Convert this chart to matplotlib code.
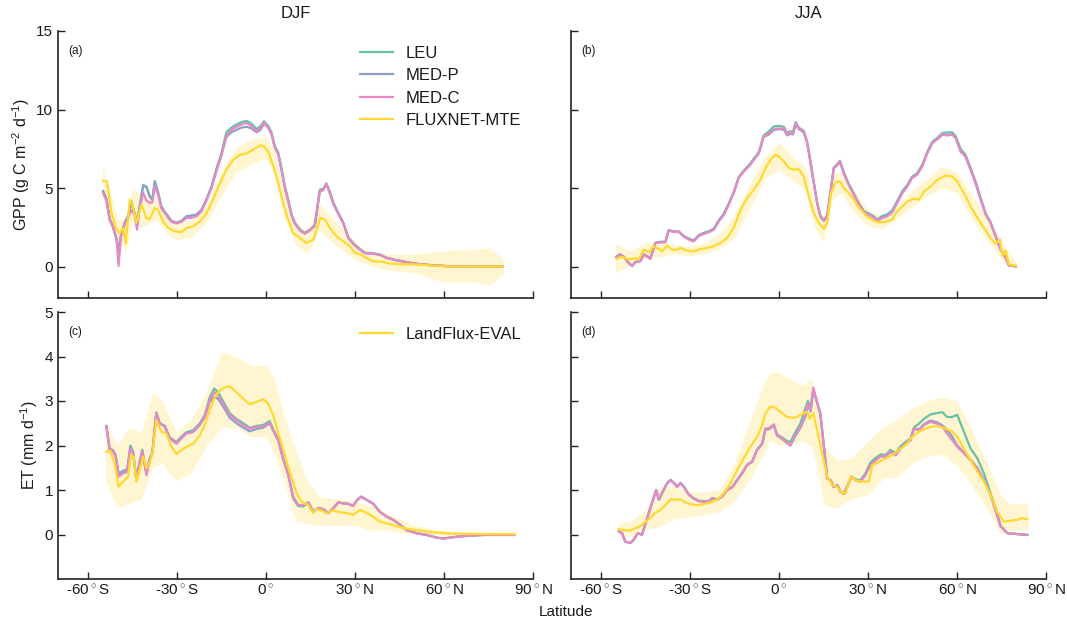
import matplotlib
matplotlib.use("Agg")
import matplotlib.pyplot as plt
import numpy as np

plt.rcParams['font.family'] = ['Liberation Sans', 'DejaVu Sans']
plt.rcParams['mathtext.fontset'] = 'custom'
plt.rcParams['mathtext.rm'] = 'Liberation Sans'
plt.rcParams['mathtext.it'] = 'Liberation Sans:italic'

# ---------------- Panel (a): GPP DJF ----------------
lat_a = [-54.8,-53.7,-52.6,-51.5,-50.3,-49.6,-48.7,-47.5,-46.4,-45.3,-44.2,-43.4,-42.5,-41.3,-40.2,-39.1,-38.2,-37.4,-36.3,-35.2,
         -34.0,-32.9,-31.8,-30.1,-28.4,-26.7,-25.0,-23.4,-21.7,-20.0,-18.3,-16.6,-14.9,-13.3,-11.6,-9.9,-8.2,-6.5,-4.8,-3.1,
         -1.8,-0.6,0.8,1.9,3.0,4.2,5.3,6.4,7.5,8.7,9.8,11.5,13.1,14.8,16.5,18.2,19.3,20.4,21.6,22.7,
         24.4,26.1,27.8,29.4,31.1,33.4,36.2,38.4,40.7,44.0,47.4,50.8,56.4,62.0,73.3,79.7]
medc_a = [4.68,4.2,3.0,2.5,1.8,0.05,2.0,2.7,3.1,3.6,3.3,2.35,3.7,4.7,4.2,4.05,4.1,5.1,4.6,3.7,
          3.4,3.1,2.85,2.75,2.85,3.1,3.1,3.2,3.5,4.2,5.0,6.1,7.1,8.3,8.7,8.9,9.05,9.15,8.95,8.6,
          8.8,9.15,8.85,8.45,7.6,7.15,6.15,5.05,4.2,3.25,2.75,2.3,2.1,2.3,2.6,4.8,4.85,5.25,4.65,4.0,
          3.35,2.75,1.8,1.45,1.15,0.85,0.82,0.75,0.55,0.4,0.28,0.17,0.08,0.02,0.0,0.0]
leu_a = [4.8,4.3,3.05,2.55,1.75,1.0,2.1,2.8,3.2,4.15,3.4,2.9,3.8,5.2,5.1,4.5,4.3,5.45,4.75,3.85,
         3.45,3.2,2.9,2.8,2.9,3.2,3.25,3.3,3.6,4.3,5.1,6.25,7.25,8.55,8.85,9.05,9.2,9.28,9.1,8.75,
         8.95,9.25,8.95,8.55,7.7,7.25,6.25,5.15,4.3,3.3,2.8,2.35,2.15,2.35,2.65,4.9,4.95,5.3,4.75,4.1,
         3.4,2.8,1.85,1.5,1.2,0.87,0.84,0.76,0.56,0.41,0.29,0.18,0.08,0.02,0.0,0.0]
medp_a = [4.8,4.3,3.0,2.55,1.75,1.08,2.1,2.8,3.2,4.1,3.4,2.8,3.8,5.15,5.05,4.45,4.25,5.4,4.7,3.8,
          3.45,3.2,2.9,2.8,2.9,3.2,3.25,3.3,3.6,4.25,5.05,6.15,7.15,8.25,8.55,8.7,8.85,8.9,8.8,8.55,
          8.7,9.1,8.85,8.45,7.6,7.15,6.15,5.05,4.2,3.25,2.75,2.3,2.1,2.3,2.6,4.85,4.9,5.25,4.7,4.05,
          3.4,2.78,1.82,1.48,1.18,0.86,0.83,0.75,0.55,0.4,0.28,0.17,0.08,0.02,0.0,0.0]
lat_mte_a = [-54.8,-53.5,-52.0,-50.3,-49.2,-48.1,-47.2,-45.8,-44.7,-43.6,-41.9,-40.2,-39.1,-37.4,-36.3,-34.6,-32.9,-30.7,-28.4,-26.7,
             -24.5,-22.2,-20.0,-17.8,-15.5,-13.3,-11.0,-8.8,-6.5,-4.3,-2.0,-0.9,0.8,2.5,4.2,5.8,7.5,9.2,11.5,13.7,
             16.0,17.1,18.4,19.9,21.6,23.8,26.1,28.3,30.0,32.2,33.9,36.2,39.6,41.8,46.3,50.8,56.4,62.0,79.7]
mte_a = [5.47,5.42,3.4,2.35,2.14,2.46,1.5,4.26,3.8,2.78,3.94,3.1,3.0,3.73,3.6,2.88,2.46,2.25,2.2,2.46,
         2.56,2.88,3.4,4.26,5.3,6.17,6.8,7.1,7.2,7.44,7.7,7.7,7.33,6.4,5.3,4.05,3.0,2.14,1.82,1.5,
         1.72,2.35,3.1,3.0,2.46,1.93,1.6,1.3,0.87,0.76,0.55,0.34,0.3,0.19,0.15,0.13,0.06,0.0,0.0]
lat_band_a = [-55,-52,-50,-47,-45,-42,-37,-33,-30,-25,-20,-15,-10,-5,0,3,6,10,14,18,22,28,33,40,50,60,70,75,80]
mte_hi_a = [6.3,4.5,3.0,3.0,5.0,4.5,4.3,3.0,2.8,3.0,3.9,6.0,7.6,8.1,8.3,7.3,5.0,2.8,2.2,4.0,3.2,2.0,1.1,0.8,0.8,1.0,1.1,1.2,0.5]
mte_lo_a = [4.5,2.5,1.6,1.0,3.0,2.5,3.0,2.0,1.7,1.9,2.8,4.5,6.0,6.5,6.9,5.8,3.2,1.4,0.8,2.3,1.6,0.7,0.2,-0.2,-0.4,-1.0,-1.0,-1.2,-0.5]

# ---------------- Panel (b): GPP JJA ----------------
lat_b = [-54.7,-53.6,-52.2,-50.6,-49.4,-48.3,-46.6,-45.5,-44.2,-43.3,-41.6,-39.9,-38.2,-37.1,-35.4,-33.7,-32.0,-30.3,-28.7,-27.0,
         -25.3,-23.6,-21.9,-20.2,-18.5,-16.9,-15.2,-13.5,-11.8,-10.1,-8.4,-6.7,-5.1,-3.4,-1.7,0.0,1.7,2.8,3.9,4.8,
         5.7,6.7,8.4,9.6,10.7,11.8,12.9,14.0,15.2,16.3,17.4,18.5,19.7,20.6,21.9,23.6,25.3,27.0,28.7,30.3,
         32.0,33.1,34.8,36.5,38.2,39.9,41.6,43.3,44.9,46.6,48.3,50.0,51.7,53.4,55.1,56.7,58.4,59.6,61.2,62.9,
         64.6,66.3,68.0,69.7,71.3,73.0,74.7,76.4,77.5,79.8]
medc_b = [0.61,0.76,0.61,0.23,0.02,0.28,0.34,0.76,0.61,0.49,1.5,1.55,1.55,2.3,2.2,2.2,1.9,1.72,1.6,1.93,
          2.08,2.18,2.35,2.88,3.3,3.94,4.68,5.64,6.06,6.38,6.8,7.22,8.28,8.45,8.75,8.8,8.77,8.4,8.54,8.5,
          9.13,8.8,8.6,7.86,6.6,5.3,4.05,3.2,2.92,3.2,4.68,6.27,6.48,6.7,5.95,5.2,4.58,3.94,3.45,3.3,
          3.1,2.88,3.1,3.2,3.45,4.05,4.68,5.1,5.64,5.85,6.38,7.22,7.86,8.1,8.4,8.35,8.4,8.18,7.33,7.0,
          6.17,5.3,4.26,3.3,2.78,1.93,1.08,0.55,0.06,0.02]
leu_b = [0.63,0.78,0.63,0.25,0.05,0.3,0.36,0.8,0.65,0.52,1.52,1.58,1.58,2.33,2.24,2.24,1.95,1.78,1.66,2.0,
         2.15,2.25,2.42,2.95,3.38,4.0,4.74,5.7,6.12,6.45,6.88,7.3,8.35,8.6,8.92,8.96,8.9,8.5,8.62,8.6,
         9.2,8.85,8.65,7.9,6.65,5.35,4.1,3.25,2.98,3.25,4.72,6.3,6.52,6.74,6.0,5.25,4.65,4.02,3.52,3.38,
         3.2,2.98,3.22,3.32,3.58,4.18,4.8,5.2,5.72,5.95,6.48,7.3,7.95,8.2,8.5,8.54,8.55,8.3,7.5,7.12,
         6.28,5.4,4.35,3.38,2.84,1.98,1.12,0.58,0.08,0.02]
medp_b = [0.62,0.77,0.62,0.24,0.04,0.29,0.35,0.78,0.63,0.5,1.5,1.56,1.56,2.3,2.22,2.22,1.92,1.75,1.63,1.96,
          2.12,2.22,2.38,2.92,3.35,3.97,4.7,5.66,6.08,6.4,6.82,7.24,8.25,8.4,8.7,8.75,8.72,8.35,8.45,8.42,
          9.05,8.75,8.55,7.82,6.58,5.28,4.03,3.18,2.9,3.18,4.66,6.25,6.46,6.68,5.93,5.18,4.56,3.95,3.47,3.33,
          3.14,2.92,3.15,3.25,3.5,4.1,4.72,5.14,5.68,5.88,6.4,7.24,7.88,8.12,8.42,8.38,8.42,8.2,7.36,7.02,
          6.2,5.32,4.28,3.32,2.8,1.95,1.1,0.56,0.07,0.02]
lat_mte_b = [-54.7,-52.8,-51.1,-49.4,-48.3,-47.2,-45.5,-43.8,-42.1,-40.4,-39.3,-37.6,-35.9,-34.3,-33.1,-31.5,-28.7,-26.4,-24.2,-21.9,
             -19.7,-17.4,-15.2,-12.9,-10.7,-8.4,-6.2,-4.5,-2.8,-1.1,0.0,1.7,3.4,5.1,6.7,8.4,10.1,11.8,13.5,15.2,
             16.3,17.6,19.1,20.6,21.9,23.6,25.3,27.0,28.7,30.3,32.0,33.7,36.0,38.2,39.9,41.6,43.3,45.5,47.2,48.9,
             51.1,53.4,56.2,58.4,60.1,62.4,64.6,66.9,69.1,71.3,73.0,74.5,75.3,76.4,77.5,79.8]
mte_b = [0.49,0.61,0.49,0.49,0.55,0.44,1.08,0.91,1.29,1.12,0.97,1.33,1.08,1.08,1.19,1.04,0.97,1.12,1.19,1.29,
         1.5,1.82,2.46,3.62,4.36,4.9,5.53,6.27,6.8,7.12,7.01,6.7,6.27,6.17,6.2,5.74,4.47,3.4,2.78,2.4,
         2.78,4.68,5.36,5.42,5.0,4.68,4.26,3.73,3.4,3.1,2.92,2.82,2.84,3.0,3.52,3.83,4.15,4.32,4.26,4.79,
         5.1,5.53,5.8,5.74,5.42,4.68,3.83,3.1,2.46,1.82,1.46,1.72,0.66,1.02,0.13,0.06]
lat_band_b = [-55,-50,-45,-40,-35,-30,-25,-20,-15,-10,-5,0,5,9,12,15,18,21,25,30,35,40,45,50,55,60,65,70,73,76,80]
mte_hi_b = [1.5,1.0,1.5,1.6,1.4,1.3,1.5,2.1,3.3,5.2,6.9,7.9,6.9,6.4,4.0,3.0,5.9,6.0,4.9,3.6,3.2,3.9,4.9,5.6,6.4,6.0,4.6,3.1,2.3,1.3,0.3]
mte_lo_b = [-0.4,0.1,0.6,0.6,0.8,0.7,0.8,1.1,1.8,3.6,5.5,6.2,5.4,4.9,2.5,1.6,4.2,4.7,3.5,2.6,2.4,3.1,3.8,4.5,5.0,4.7,3.0,1.7,1.0,0.3,-0.2]

# ---------------- Panel (c): ET DJF ----------------
lat_c = [-53.7,-52.6,-51.5,-50.6,-49.6,-48.1,-46.7,-45.6,-44.7,-43.6,-42.5,-41.6,-40.2,-39.1,-38.2,-36.9,-35.7,-34.0,-32.4,-30.1,
         -28.4,-26.7,-24.5,-22.2,-20.6,-18.9,-17.4,-16.1,-14.4,-12.1,-9.9,-7.6,-5.4,-3.1,-0.9,1.3,2.5,4.2,5.8,7.5,
         9.2,10.9,12.6,14.3,16.0,17.6,19.3,21.0,22.7,24.4,26.1,27.8,29.4,30.8,32.2,33.9,36.2,38.4,40.7,42.9,
         45.2,47.4,50.8,54.2,57.5,59.8,63.1,67.6,73.3,83.7]
medc_c = [2.42,1.9,1.88,1.75,1.3,1.37,1.41,1.93,1.82,1.22,1.6,1.86,1.34,1.67,1.82,2.72,2.49,2.42,2.16,2.04,
          2.16,2.27,2.3,2.46,2.64,3.01,3.2,3.13,2.94,2.68,2.57,2.46,2.38,2.42,2.43,2.51,2.34,2.12,1.71,1.37,
          0.85,0.66,0.66,0.72,0.51,0.59,0.57,0.48,0.59,0.72,0.7,0.69,0.64,0.78,0.85,0.78,0.69,0.51,0.4,0.33,
          0.22,0.1,0.03,-0.01,-0.07,-0.09,-0.06,-0.03,-0.01,-0.01]
leu_c = [2.44,1.92,1.9,1.77,1.35,1.42,1.45,2.0,1.86,1.24,1.63,1.9,1.37,1.7,1.85,2.74,2.5,2.44,2.18,2.08,
         2.2,2.3,2.34,2.5,2.68,3.08,3.28,3.2,3.0,2.72,2.6,2.5,2.4,2.44,2.46,2.55,2.36,2.14,1.72,1.36,
         0.82,0.64,0.63,0.72,0.51,0.59,0.57,0.48,0.59,0.72,0.7,0.69,0.64,0.78,0.85,0.78,0.69,0.51,0.4,0.33,
         0.22,0.1,0.03,-0.01,-0.07,-0.09,-0.06,-0.03,-0.01,-0.01]
medp_c = [2.43,1.91,1.89,1.78,1.37,1.43,1.46,1.96,1.84,1.26,1.62,1.88,1.36,1.69,1.84,2.73,2.5,2.43,2.17,2.06,
          2.18,2.28,2.32,2.47,2.64,2.98,3.09,3.05,2.88,2.62,2.5,2.4,2.32,2.37,2.4,2.5,2.33,2.11,1.7,1.36,
          0.84,0.66,0.66,0.72,0.51,0.59,0.57,0.48,0.59,0.72,0.7,0.69,0.64,0.78,0.85,0.78,0.69,0.51,0.4,0.33,
          0.22,0.1,0.03,-0.01,-0.07,-0.09,-0.06,-0.03,-0.01,-0.01]
lat_lf_c = [-53.7,-52.4,-50.9,-49.6,-48.1,-46.4,-45.5,-44.5,-43.6,-42.5,-41.3,-40.2,-39.1,-38.0,-36.9,-35.2,-33.5,-31.8,-30.1,-28.4,
            -26.7,-24.5,-22.2,-20.6,-18.9,-17.2,-15.5,-13.8,-12.1,-9.9,-7.6,-5.4,-3.1,-0.9,0.8,2.5,4.2,5.8,7.5,9.2,
            10.3,12.0,14.3,16.0,17.1,18.8,20.4,22.7,24.9,27.2,29.4,31.7,33.9,36.2,38.4,40.7,44.0,47.4,50.8,56.4,
            62.0,73.3,83.7]
lf_c = [1.86,1.88,1.6,1.07,1.19,1.3,1.78,1.75,1.19,1.45,1.75,1.49,1.6,1.9,2.57,2.31,2.27,1.97,1.81,1.9,
        1.97,2.04,2.23,2.46,2.79,3.09,3.24,3.31,3.33,3.2,3.05,2.93,2.98,3.04,2.94,2.68,2.27,1.93,1.52,1.19,
        0.93,0.74,0.66,0.48,0.57,0.54,0.48,0.54,0.5,0.48,0.44,0.55,0.49,0.4,0.29,0.25,0.19,0.13,0.1,0.05,
        0.02,0.01,0.01]
lat_band_c = [-54,-50,-46,-42,-38,-35,-30,-25,-20,-15,-10,-5,0,3,6,10,14,18,25,30,35,40,50,60,84]
lf_hi_c = [2.5,2.0,2.4,2.3,3.2,3.0,2.3,2.6,3.2,4.1,4.0,3.8,3.8,3.5,2.7,1.9,1.2,0.85,0.8,0.75,0.65,0.5,0.2,0.08,0.03]
lf_lo_c = [1.2,0.6,0.7,0.8,1.5,1.6,1.2,1.4,2.0,2.4,2.4,2.2,2.2,1.8,1.2,0.3,0.25,0.2,0.2,0.2,0.1,0.1,0.0,-0.02,-0.01]

# ---------------- Panel (d): ET JJA ----------------
lat_d = [-53.9,-52.8,-51.7,-50.0,-48.9,-47.5,-46.1,-44.9,-43.8,-42.4,-41.3,-40.4,-38.8,-37.6,-36.5,-35.4,-34.3,-33.1,-32.0,-30.3,
         -28.7,-27.0,-25.3,-23.6,-22.5,-20.8,-19.1,-17.4,-15.7,-14.0,-12.4,-10.7,-9.0,-7.3,-5.6,-4.5,-3.4,-1.7,-0.6,1.1,
         2.8,3.9,5.6,7.3,9.0,9.8,10.7,11.6,12.9,14.0,15.2,16.3,17.4,18.5,19.7,20.8,21.9,23.0,24.4,25.8,
         27.5,29.2,30.9,32.6,34.3,36.0,37.6,39.3,41.0,42.7,44.4,45.5,47.2,48.9,51.1,53.4,55.1,56.7,58.4,60.1,
         62.4,64.6,66.9,69.1,71.3,73.0,74.7,77.0,80.3,83.7]
medc_d = [0.07,0.03,-0.16,-0.19,-0.12,0.03,-0.01,0.25,0.48,0.78,1.0,0.78,1.0,1.15,1.22,1.16,1.07,1.15,1.07,0.89,
          0.81,0.75,0.74,0.74,0.81,0.78,0.85,1.0,1.06,1.22,1.37,1.56,1.63,1.9,2.04,2.38,2.38,2.47,2.23,2.16,
          2.06,2.0,2.23,2.42,2.68,2.94,2.79,3.3,2.98,2.72,1.97,1.26,1.22,1.07,1.11,0.96,0.91,1.07,1.3,1.22,
          1.19,1.34,1.56,1.67,1.76,1.75,1.86,1.78,1.93,2.04,2.12,2.38,2.34,2.46,2.53,2.49,2.42,2.27,2.12,1.97,
          1.82,1.67,1.49,1.22,0.89,0.55,0.18,0.03,0.01,-0.01]
leu_d = [0.07,0.03,-0.16,-0.19,-0.12,0.03,-0.01,0.25,0.48,0.78,1.0,0.78,1.0,1.16,1.23,1.17,1.08,1.16,1.08,0.9,
         0.82,0.76,0.75,0.75,0.82,0.79,0.86,1.01,1.07,1.23,1.38,1.57,1.64,1.91,2.05,2.38,2.38,2.47,2.25,2.18,
         2.1,2.08,2.3,2.5,2.85,3.0,2.82,3.25,2.98,2.72,1.97,1.26,1.22,1.07,1.11,0.96,0.91,1.07,1.3,1.24,
         1.22,1.38,1.62,1.72,1.8,1.79,1.9,1.83,1.98,2.08,2.16,2.4,2.49,2.6,2.7,2.73,2.75,2.64,2.64,2.69,
         2.3,1.93,1.71,1.37,0.93,0.6,0.2,0.03,0.01,-0.01]
medp_d = [0.07,0.03,-0.16,-0.19,-0.12,0.03,-0.01,0.25,0.48,0.78,1.0,0.78,1.0,1.15,1.22,1.16,1.07,1.15,1.07,0.89,
          0.81,0.75,0.74,0.74,0.81,0.78,0.85,1.0,1.06,1.22,1.37,1.56,1.63,1.9,2.04,2.36,2.36,2.45,2.22,2.15,
          2.05,2.0,2.22,2.4,2.66,2.9,2.76,3.26,2.96,2.7,1.97,1.26,1.22,1.07,1.11,0.96,0.91,1.07,1.3,1.22,
          1.19,1.34,1.56,1.67,1.76,1.75,1.86,1.78,1.93,2.04,2.12,2.38,2.36,2.48,2.56,2.52,2.45,2.35,2.2,2.0,
          1.84,1.68,1.5,1.22,0.89,0.55,0.18,0.03,0.01,-0.01]
lat_lf_d = [-53.9,-52.2,-50.0,-48.3,-46.6,-44.9,-43.3,-41.6,-39.9,-38.2,-36.5,-34.8,-33.1,-31.5,-29.8,-27.5,-25.3,-23.0,-20.8,-18.5,
            -16.3,-14.0,-11.8,-9.6,-7.3,-5.6,-4.5,-2.8,-1.1,0.6,2.8,5.1,6.7,8.4,9.6,10.4,11.6,12.9,14.6,16.3,
            18.0,19.7,21.3,22.5,24.2,25.8,28.1,30.3,31.5,33.7,36.0,38.2,40.4,42.7,44.9,47.2,49.4,51.7,53.9,56.2,
            58.4,60.1,62.4,64.6,66.9,69.1,71.3,73.6,75.8,78.1,80.3,82.0,83.7]
lf_d = [0.12,0.1,0.09,0.14,0.19,0.29,0.37,0.49,0.55,0.66,0.79,0.78,0.79,0.72,0.68,0.66,0.68,0.72,0.78,0.93,
        1.15,1.45,1.71,1.97,2.19,2.46,2.72,2.88,2.85,2.75,2.64,2.62,2.66,2.73,2.75,2.6,2.73,2.34,1.82,1.3,
        1.11,1.07,0.93,0.93,1.3,1.22,1.19,1.19,1.56,1.63,1.71,1.78,1.9,2.01,2.19,2.31,2.38,2.43,2.43,2.38,
        2.31,2.19,1.93,1.67,1.41,1.19,0.89,0.51,0.29,0.31,0.33,0.37,0.34]
lat_band_d = [-54,-50,-45,-40,-35,-30,-25,-20,-15,-10,-5,-3,0,5,8,11,13,15,18,20,23,25,30,35,40,45,50,55,60,65,70,75,78,84]
lf_hi_d = [0.25,0.3,0.55,1.07,1.1,0.96,0.95,1.0,1.6,2.5,3.4,3.65,3.65,3.45,3.35,3.5,3.0,2.0,1.8,1.67,1.7,1.75,2.1,2.4,2.6,2.85,3.0,3.09,3.0,2.35,1.65,0.85,0.7,0.7]
lf_lo_d = [0.03,-0.05,0.1,0.18,0.35,0.4,0.45,0.5,0.75,1.22,1.8,2.12,2.0,2.05,2.1,1.97,1.5,0.7,0.6,0.63,0.75,0.8,0.9,1.25,1.3,1.6,1.75,1.8,1.55,1.1,0.6,0.0,0.1,0.1]

# ---------------- Labels ----------------
series_names = ['LEU', 'MED-P', 'MED-C']
obs_names = ['FLUXNET-MTE', 'LandFlux-EVAL']
xticks = [-60, -30, 0, 30, 60, 90]
xticklabels = [r'-60$\,^{\circ}\,$S', r'-30$\,^{\circ}\,$S', r'0$\,^{\circ}$',
               r'30$\,^{\circ}\,$N', r'60$\,^{\circ}\,$N', r'90$\,^{\circ}\,$N']
gpp_ticks = [0, 5, 10, 15]
et_ticks = [0, 1, 2, 3, 4, 5]

colors = {'LEU': '#66c2a5', 'MED-P': '#8da0cb', 'MED-C': '#e78ac3', 'OBS': '#ffd92f'}
txt = '#1a1a1a'

W, H = 1067, 622
fig = plt.figure(figsize=(W / 100, H / 100), dpi=100)

def frac(x0, x1, ytop, ybot):
    return [x0 / W, 1 - ybot / H, (x1 - x0) / W, (ybot - ytop) / H]

ax_a = fig.add_axes(frac(58, 533, 31, 298))
ax_b = fig.add_axes(frac(571, 1046, 31, 298))
ax_c = fig.add_axes(frac(58, 533, 312, 579))
ax_d = fig.add_axes(frac(571, 1046, 312, 579))

panels = [
    (ax_a, lat_a, [leu_a, medp_a, medc_a], lat_mte_a, mte_a, lat_band_a, mte_lo_a, mte_hi_a, (-2, 15), gpp_ticks, '(a)'),
    (ax_b, lat_b, [leu_b, medp_b, medc_b], lat_mte_b, mte_b, lat_band_b, mte_lo_b, mte_hi_b, (-2, 15), gpp_ticks, '(b)'),
    (ax_c, lat_c, [leu_c, medp_c, medc_c], lat_lf_c, lf_c, lat_band_c, lf_lo_c, lf_hi_c, (-1, 5), et_ticks, '(c)'),
    (ax_d, lat_d, [leu_d, medp_d, medc_d], lat_lf_d, lf_d, lat_band_d, lf_lo_d, lf_hi_d, (-1, 5), et_ticks, '(d)'),
]

for i, (ax, lat, models, lat_o, obs, lat_bd, lo, hi, ylim, yt, lab) in enumerate(panels):
    ax.fill_between(lat_bd, lo, hi, color=colors['OBS'], alpha=0.22, linewidth=0, zorder=1)
    for name, vals in zip(series_names, models):
        ax.plot(lat, vals, color=colors[name], lw=1.6, zorder=3, label=name)
    obs_label = obs_names[0] if i < 2 else obs_names[1]
    ax.plot(lat_o, obs, color=colors['OBS'], lw=1.6, zorder=4, label=obs_label)
    ax.set_xlim(-70, 90)
    ax.set_ylim(*ylim)
    ax.set_xticks(xticks)
    ax.set_yticks(yt)
    for s in ['top', 'right']:
        ax.spines[s].set_visible(False)
    for s in ['left', 'bottom']:
        ax.spines[s].set_color('#222222')
        ax.spines[s].set_linewidth(1.2)
    ax.tick_params(direction='in', length=5, width=1, color='#222222', labelcolor=txt, labelsize=11)
    if i < 2:
        ax.set_xticklabels([])
    else:
        ax.set_xticklabels(xticklabels)
    if i in (1, 3):
        ax.set_yticklabels([])
    ax.text(0.021, 0.925, lab, transform=ax.transAxes, fontsize=8.5, color=txt, va='center', ha='left')

ax_a.set_ylabel(r'GPP (g C m$^{-2}$ d$^{-1}$)', fontsize=11.5, color=txt, labelpad=3)
ax_c.set_ylabel(r'ET (mm d$^{-1}$)', fontsize=11.5, color=txt, labelpad=3)

leg_kw = dict(loc='upper left', bbox_to_anchor=(0.636, 0.945), frameon=False, fontsize=12,
              handlelength=2.0, handletextpad=0.75, labelspacing=0.45, borderpad=0, borderaxespad=0,
              labelcolor=txt)
h, l = ax_a.get_legend_handles_labels()
ax_a.legend(h, l, **leg_kw)
h, l = ax_c.get_legend_handles_labels()
ax_c.legend([h[-1]], [l[-1]], **leg_kw)

fig.text(295.5 / W, 1 - 13 / H, 'DJF', ha='center', va='center', fontsize=12, color=txt)
fig.text(808.5 / W, 1 - 13 / H, 'JJA', ha='center', va='center', fontsize=12, color=txt)
fig.text(566 / W, 1 - 612 / H, 'Latitude', ha='center', va='center', fontsize=11, color=txt)

fig.savefig('out.png', dpi=100)
